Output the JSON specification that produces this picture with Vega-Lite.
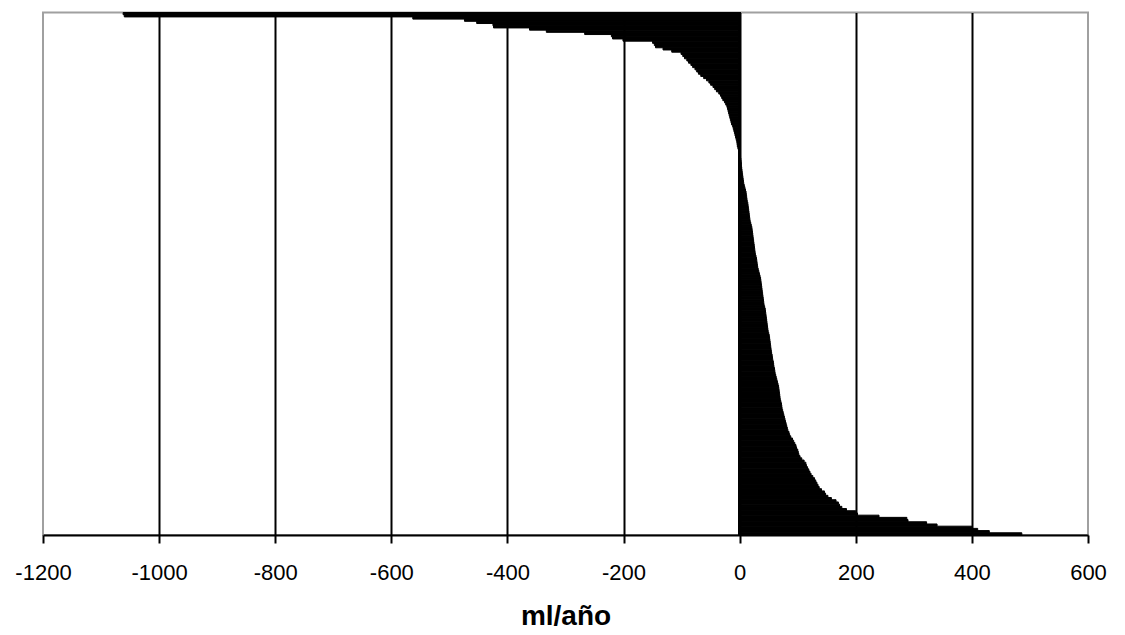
{
  "$schema": "https://vega.github.io/schema/vega-lite/v6.json",
  "width": 1045,
  "height": 522.5,
  "autosize": {"type": "none"},
  "padding": {"left": 43, "top": 12.5, "right": 37, "bottom": 100},
  "background": "white",
  "config": {
    "view": {"stroke": "#a0a0a0", "strokeWidth": 2},
    "font": "Liberation Sans"
  },
  "data": {
    "values": [
      {"r":0,"v":-1062},{"r":1,"v":-1060},{"r":2,"v":-563},{"r":3,"v":-474},{"r":4,"v":-453},{"r":5,"v":-425},{"r":6,"v":-424},{"r":7,"v":-362},{"r":8,"v":-333},{"r":9,"v":-267},
      {"r":10,"v":-221},{"r":11,"v":-219},{"r":12,"v":-201},{"r":13,"v":-150},{"r":14,"v":-147},{"r":15,"v":-145},{"r":16,"v":-132},{"r":17,"v":-117},{"r":18,"v":-101},{"r":19,"v":-98},
      {"r":20,"v":-95},{"r":21,"v":-91},{"r":22,"v":-88},{"r":23,"v":-84},{"r":24,"v":-81},{"r":25,"v":-77},{"r":26,"v":-74},{"r":27,"v":-71},{"r":28,"v":-67},{"r":29,"v":-62},
      {"r":30,"v":-57},{"r":31,"v":-53},{"r":32,"v":-50},{"r":33,"v":-46},{"r":34,"v":-43},{"r":35,"v":-40},{"r":36,"v":-36},{"r":37,"v":-33},{"r":38,"v":-31},{"r":39,"v":-29},
      {"r":40,"v":-26},{"r":41,"v":-24},{"r":42,"v":-22},{"r":43,"v":-21},{"r":44,"v":-20},{"r":45,"v":-19},{"r":46,"v":-18},{"r":47,"v":-17},{"r":48,"v":-16},{"r":49,"v":-15},
      {"r":50,"v":-14},{"r":51,"v":-12},{"r":52,"v":-11},{"r":53,"v":-10},{"r":54,"v":-9},{"r":55,"v":-8},{"r":56,"v":-7},{"r":57,"v":-6},{"r":58,"v":-5},{"r":59,"v":-4.5},
      {"r":60,"v":-4},{"r":61,"v":-3},{"r":62,"v":-2},{"r":63,"v":-1},{"r":64,"v":1},{"r":65,"v":1.5},{"r":66,"v":2},{"r":67,"v":2.5},{"r":68,"v":3},{"r":69,"v":3},
      {"r":70,"v":3.5},{"r":71,"v":4},{"r":72,"v":4.5},{"r":73,"v":5},{"r":74,"v":5.5},{"r":75,"v":6},{"r":76,"v":6.5},{"r":77,"v":7},{"r":78,"v":8},{"r":79,"v":9},
      {"r":80,"v":10},{"r":81,"v":11},{"r":82,"v":11.5},{"r":83,"v":12},{"r":84,"v":12.5},{"r":85,"v":13},{"r":86,"v":14},{"r":87,"v":14.5},{"r":88,"v":15},{"r":89,"v":15.5},
      {"r":90,"v":16},{"r":91,"v":16.5},{"r":92,"v":17},{"r":93,"v":17.5},{"r":94,"v":18},{"r":95,"v":19},{"r":96,"v":20},{"r":97,"v":21},{"r":98,"v":21.5},{"r":99,"v":22},
      {"r":100,"v":22.5},{"r":101,"v":23},{"r":102,"v":23.5},{"r":103,"v":24},{"r":104,"v":24.5},{"r":105,"v":25},{"r":106,"v":25.5},{"r":107,"v":26},{"r":108,"v":26.5},{"r":109,"v":27},
      {"r":110,"v":28},{"r":111,"v":29},{"r":112,"v":29.5},{"r":113,"v":30},{"r":114,"v":30.5},{"r":115,"v":31},{"r":116,"v":32},{"r":117,"v":33},{"r":118,"v":34},{"r":119,"v":35},
      {"r":120,"v":36},{"r":121,"v":36.5},{"r":122,"v":37},{"r":123,"v":37.5},{"r":124,"v":38},{"r":125,"v":38.5},{"r":126,"v":39},{"r":127,"v":39.5},{"r":128,"v":40},{"r":129,"v":40.5},
      {"r":130,"v":41},{"r":131,"v":41.5},{"r":132,"v":42},{"r":133,"v":43},{"r":134,"v":44},{"r":135,"v":44.5},{"r":136,"v":45},{"r":137,"v":45.5},{"r":138,"v":46},{"r":139,"v":46.5},
      {"r":140,"v":47},{"r":141,"v":47.5},{"r":142,"v":48},{"r":143,"v":48.5},{"r":144,"v":49},{"r":145,"v":50},{"r":146,"v":51},{"r":147,"v":51.5},{"r":148,"v":52},{"r":149,"v":52.5},
      {"r":150,"v":53},{"r":151,"v":53.5},{"r":152,"v":54},{"r":153,"v":54.5},{"r":154,"v":55},{"r":155,"v":56},{"r":156,"v":56.5},{"r":157,"v":57},{"r":158,"v":58},{"r":159,"v":58.5},
      {"r":160,"v":59},{"r":161,"v":60},{"r":162,"v":60.5},{"r":163,"v":61},{"r":164,"v":62},{"r":165,"v":63},{"r":166,"v":64},{"r":167,"v":65},{"r":168,"v":66},{"r":169,"v":67},
      {"r":170,"v":67.5},{"r":171,"v":68},{"r":172,"v":68.5},{"r":173,"v":69},{"r":174,"v":69.5},{"r":175,"v":70},{"r":176,"v":71},{"r":177,"v":72},{"r":178,"v":72.5},{"r":179,"v":73},
      {"r":180,"v":74},{"r":181,"v":75},{"r":182,"v":76},{"r":183,"v":77},{"r":184,"v":78},{"r":185,"v":79},{"r":186,"v":80},{"r":187,"v":81},{"r":188,"v":82},{"r":189,"v":83},
      {"r":190,"v":85},{"r":191,"v":86},{"r":192,"v":88},{"r":193,"v":91},{"r":194,"v":93},{"r":195,"v":95},{"r":196,"v":97},{"r":197,"v":98},{"r":198,"v":100},{"r":199,"v":101},
      {"r":200,"v":102},{"r":201,"v":104},{"r":202,"v":107},{"r":203,"v":111},{"r":204,"v":114},{"r":205,"v":115},{"r":206,"v":117},{"r":207,"v":119},{"r":208,"v":121},{"r":209,"v":123},
      {"r":210,"v":126},{"r":211,"v":129},{"r":212,"v":131},{"r":213,"v":133},{"r":214,"v":135},{"r":215,"v":137},{"r":216,"v":141},{"r":217,"v":146},{"r":218,"v":148},{"r":219,"v":152},
      {"r":220,"v":158},{"r":221,"v":166},{"r":222,"v":170},{"r":223,"v":172},{"r":224,"v":176},{"r":225,"v":184},{"r":226,"v":200},{"r":227,"v":203},{"r":228,"v":240},{"r":229,"v":288},
      {"r":230,"v":290},{"r":231,"v":322},{"r":232,"v":340},{"r":233,"v":400},{"r":234,"v":410},{"r":235,"v":430},{"r":236,"v":486}
    ]
  },
  "layer": [
    {
      "mark": {"type": "bar", "color": "black", "stroke": "black", "strokeWidth": 1},
      "encoding": {
        "y": {"field": "r", "type": "ordinal", "axis": null, "sort": "ascending", "scale": {"paddingInner": 0, "paddingOuter": 0}},
        "x": {
          "field": "v", "type": "quantitative",
          "scale": {"domain": [-1200, 600], "nice": false, "zero": true},
          "axis": {
            "title": "ml/año",
            "values": [-1200, -1000, -800, -600, -400, -200, 0, 200, 400, 600],
            "labelExpr": "datum.value + ''",
            "labelFont": "Liberation Sans",
            "labelFontSize": 22,
            "labelColor": "black",
            "labelPadding": 19,
            "labelFlush": false,
            "labelOverlap": false,
            "tickSize": 8,
            "tickWidth": 2,
            "tickColor": "black",
            "domainColor": "black",
            "domainWidth": 2,
            "grid": true,
            "gridWidth": 2,
            "gridOpacity": 1,
            "gridColor": {"condition": {"test": "datum.value == -1200 || datum.value == 600", "value": "transparent"}, "value": "black"},
            "titleFont": "Liberation Sans",
            "titleFontSize": 28,
            "titleFontWeight": "bold",
            "titleColor": "black",
            "titlePadding": 19
          }
        }
      }
    },
    {
      "mark": {"type": "rule", "color": "black", "strokeWidth": 2},
      "encoding": {"x": {"datum": 0}}
    }
  ]
}
